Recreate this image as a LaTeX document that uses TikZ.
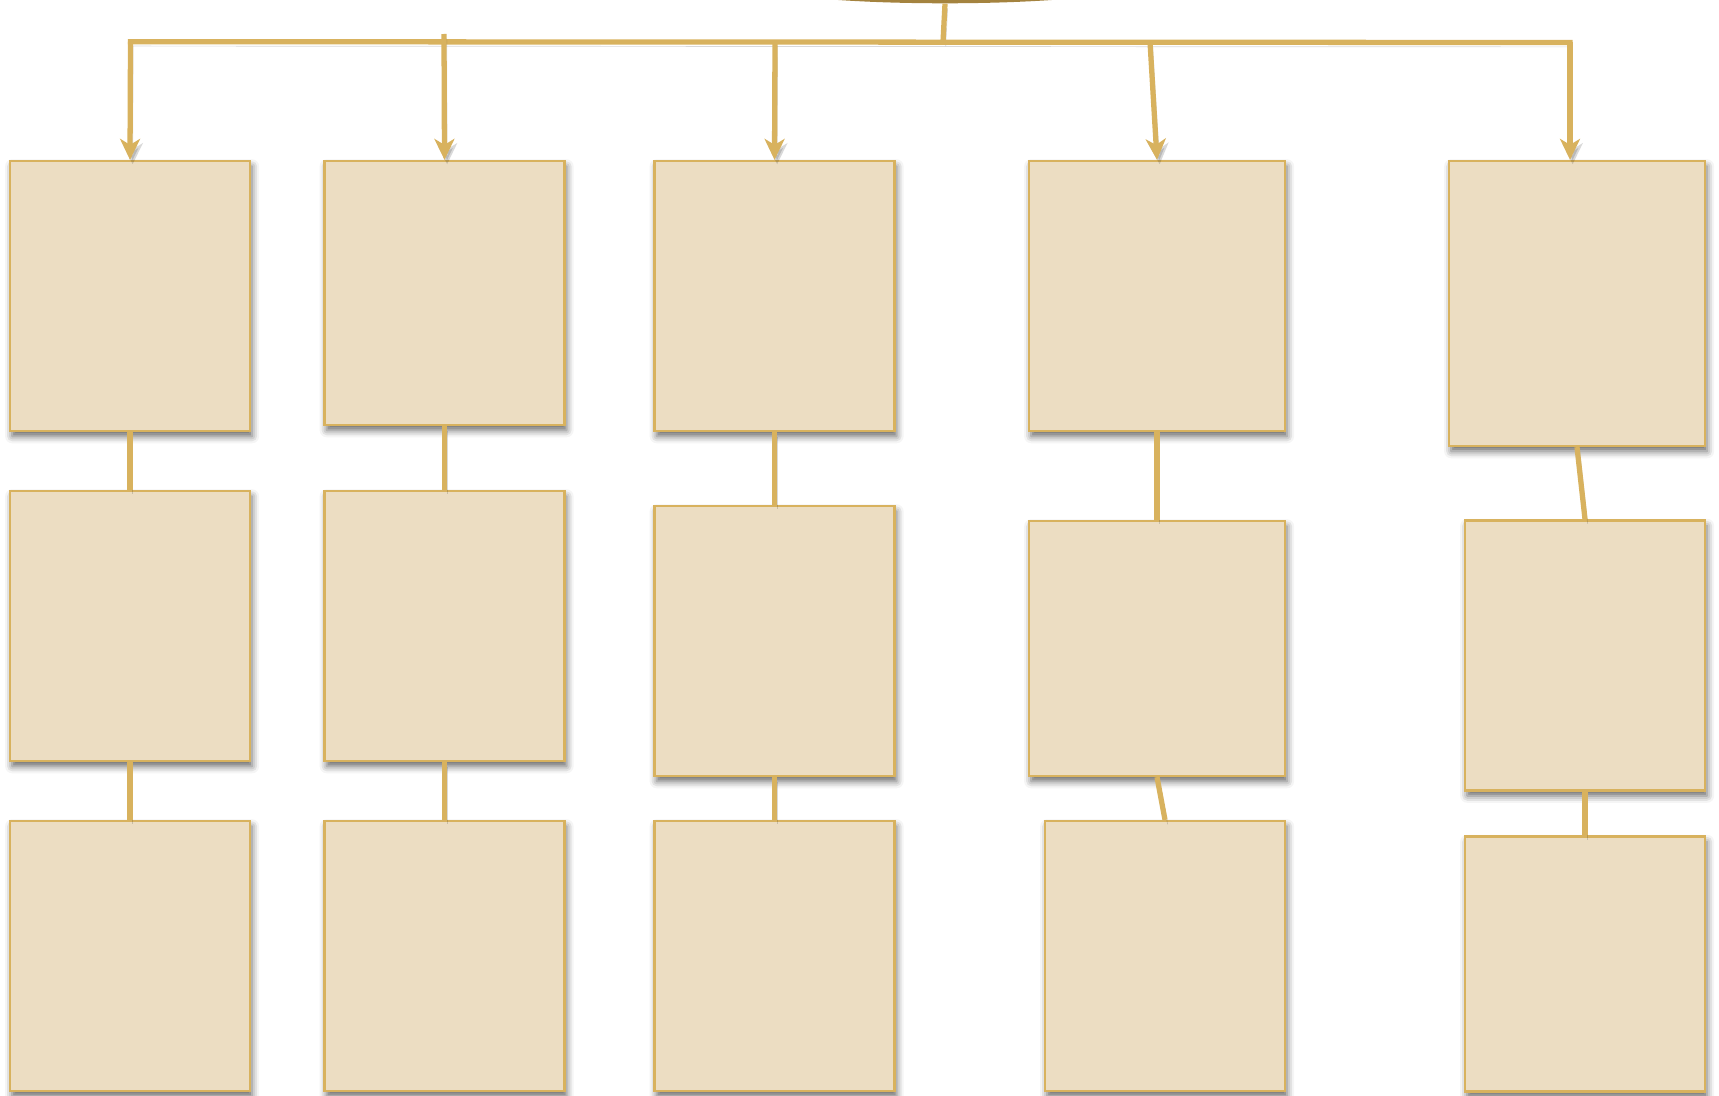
\documentclass[tikz,border=0pt]{standalone}
\usepackage{tikz}
\usetikzlibrary{arrows.meta,positioning,shapes.geometric,shadows.blur}
\tikzset{>=Stealth}
\definecolor{boxfill}{HTML}{ECDDC2}
\definecolor{boxline}{HTML}{D8B25E}
\definecolor{rootfill}{HTML}{A4833F}

\begin{document}
\begin{tikzpicture}[x=0.02cm, y=-0.02cm,
    box/.style 2 args={draw=boxline, fill=boxfill, line width=1.3pt, inner sep=0pt, minimum width=#1, minimum height=#2,
      blur shadow={shadow xshift=1.2pt, shadow yshift=-3pt, shadow blur radius=4pt, shadow opacity=60}},
    link/.style={draw=boxline, line width=3pt,
      preaction={draw=black, opacity=0.15, transform canvas={xshift=1.5pt, yshift=-2.5pt}}},
    arr/.style={link, -{Stealth[length=0.42cm, width=0.4cm, inset=0.12cm]}}
  ]
    \useasboundingbox (0,0) rectangle (1719,1095);

    % root, mostly off the page
    \node[ellipse, fill=rootfill, minimum width=7.76cm, minimum height=0.8cm, inner sep=0pt] (root) at (945,-16.7) {};

    % first row
    \node[box={4.8cm}{5.4cm}] (a1) at (130,296) {};
    \node[box={4.8cm}{5.28cm}] (b1) at (444.5,293) {};
    \node[box={4.8cm}{5.4cm}] (c1) at (774.5,296) {};
    \node[box={5.12cm}{5.4cm}] (d1) at (1157,296) {};
    \node[box={5.12cm}{5.7cm}] (e1) at (1577,303.5) {};

    % second row
    \node[box={4.8cm}{5.4cm}] (a2) at (130,626) {};
    \node[box={4.8cm}{5.4cm}] (b2) at (444.5,626) {};
    \node[box={4.8cm}{5.4cm}] (c2) at (774.5,641) {};
    \node[box={5.12cm}{5.1cm}] (d2) at (1157,648.5) {};
    \node[box={4.8cm}{5.4cm}] (e2) at (1585,655.5) {};

    % third row
    \node[box={4.8cm}{5.4cm}] (a3) at (130,956) {};
    \node[box={4.8cm}{5.4cm}] (b3) at (444.5,956) {};
    \node[box={4.8cm}{5.4cm}] (c3) at (774.5,956) {};
    \node[box={4.8cm}{5.4cm}] (d3) at (1165,956) {};
    \node[box={4.8cm}{5.1cm}] (e3) at (1585,964) {};

    \coordinate (hub) at (943,41.7);
    \coordinate (ta) at (130.5,41.7);
    \coordinate (tb) at (444,34);
    \coordinate (tc) at (775,41.7);
    \coordinate (td) at (1150,42);
    \coordinate (te) at (1570,42.5);

    \draw[link] (root.south) -- (hub);
    \draw[link, line cap=rect] (ta) -- (te);
    \draw[arr] (ta) -- (a1.north);
    \draw[arr] (tb) -- (b1.north);
    \draw[arr] (tc) -- (c1.north);
    \draw[arr] (td) -- (d1.north);
    \draw[arr] (te) -- (e1.north -| te);

    \draw[link] (a1.south) -- (a2.north);
    \draw[link] (a2.south) -- (a3.north);
    \draw[link] (b1.south) -- (b2.north);
    \draw[link] (b2.south) -- (b3.north);
    \draw[link] (c1.south) -- (c2.north);
    \draw[link] (c2.south) -- (c3.north);
    \draw[link] (d1.south) -- (d2.north);
    \draw[link] (d2.south) -- (d3.north);
    \draw[link] (e1.south) -- (e2.north);
    \draw[link] (e2.south) -- (e3.north);
  \end{tikzpicture}
\end{document}
